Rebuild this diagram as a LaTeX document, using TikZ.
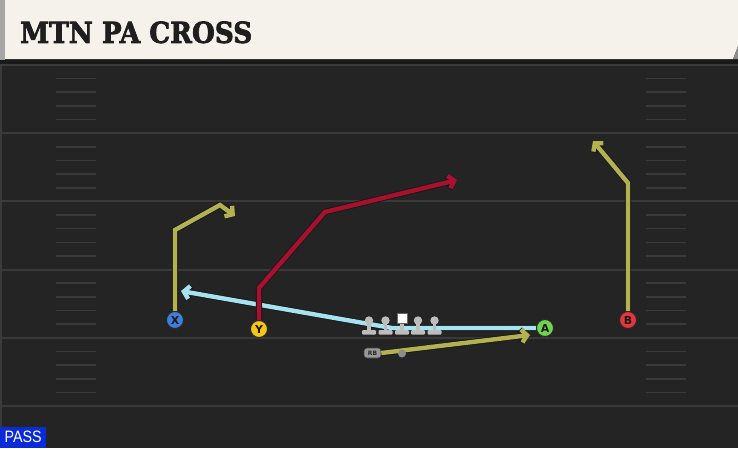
\documentclass[tikz,border=0pt]{standalone}
\usepackage{fontspec}
\usetikzlibrary{arrows.meta}
\newfontfamily\titlefont[BoldFeatures={FakeBold=2.5}]{DejaVu Serif}
\newfontfamily\labelfont{DejaVu Sans}
\newfontfamily\passfont{Liberation Sans}
\definecolor{fieldbg}{HTML}{242424}
\definecolor{headbg}{HTML}{F4F2EB}
\definecolor{bandc}{HTML}{1A1A1A}
\definecolor{yardc}{HTML}{3A3A3A}
\definecolor{olivec}{HTML}{B4B150}
\definecolor{redc}{HTML}{A8102E}
\definecolor{bluec}{HTML}{A6E3F0}
\definecolor{xblue}{HTML}{3F7FDB}
\definecolor{yyellow}{HTML}{F5C518}
\definecolor{agreen}{HTML}{6FD64C}
\definecolor{bred}{HTML}{E8343F}
\definecolor{olgray}{HTML}{BDBDBD}
\definecolor{passblue}{HTML}{0B2BD6}
\definecolor{titlec}{HTML}{1E1E1E}
\tikzset{
  yard/.style={draw=yardc, line width=2pt},
  hashmark/.style={draw=yardc, line width=1.6pt},
  route/.style={draw=#1, line width=4.4pt, line join=miter, line cap=butt,
    -{Straight Barb[length=5.5pt,width=13pt]},
    preaction={draw=black!90, line width=6.2pt}},
  player/.style={circle, draw=black!85, line width=0.9pt, minimum size=17pt, inner sep=0pt,
    font=\labelfont\bfseries\fontsize{11}{11}\selectfont, text=black!90},
  pawn/.pic={
    \fill[olgray] (0,0) circle (4.2);
    \fill[olgray] (-1.8,0) rectangle (1.8,10);
    \fill[olgray, rounded corners=1pt] (-7,9.5) rectangle (7,14);
  }
}
\begin{document}
\begin{tikzpicture}[x=1pt,y=-1pt]
\useasboundingbox (0,0) rectangle (738,448);
% background
\fill[fieldbg] (0,0) rectangle (738,448);
\fill[bandc] (0,59) rectangle (738,64);
\fill[headbg] (5,0) -- (738,0) -- (738,46) -- (733,59) -- (5,59) -- cycle;
\fill[black!45] (733,59) -- (738,46) -- (738,59) -- cycle;
\fill[black!35] (0,0) rectangle (5,60);
\fill[yardc] (0,64) rectangle (2,448);
% yard lines
\foreach \yy in {65,133.2,201.4,269.6,337.8,406} {
  \draw[yard] (0,\yy) -- (738,\yy);
}
% hash marks
\foreach \yy in {65,133.2,201.4,269.6,337.8} {
  \foreach \k in {1,2,3,4} {
    \draw[hashmark] (56,\yy+13.64*\k) -- (96,\yy+13.64*\k);
    \draw[hashmark] (646,\yy+13.64*\k) -- (686,\yy+13.64*\k);
  }
}
% title
\node[anchor=south west, inner sep=0pt, text=titlec] (title) at (20,43.5)
  {\resizebox{232pt}{21.5pt}{\titlefont\bfseries MTN PA CROSS}};
% players
\node[player, fill=xblue] (X) at (175,320) {X};
\node[player, fill=yyellow] (Y) at (259,329) {Y};
\node[player, fill=agreen] (A) at (545,328) {A};
\node[player, fill=bred] (B) at (628,320) {B};
% route coordinates
\coordinate (x1) at (175,230);
\coordinate (x2) at (220,205);
\coordinate (x3) at (235,216);
\coordinate (y1) at (259,288);
\coordinate (y2) at (325,212);
\coordinate (y3) at (457,180);
\coordinate (b1) at (628,183);
\coordinate (b2) at (593,141);
\coordinate (a1) at (392,328);
\coordinate (a2) at (181,291);
\coordinate (r1) at (530,335);
% RB
\node[rounded corners=3pt, fill=black!40, draw=black!75, line width=0.6pt, minimum width=17pt, minimum height=10pt,
  inner sep=0pt, font=\labelfont\bfseries\fontsize{6}{6}\selectfont, text=black!85] (RB) at (372.5,353) {RB};
% routes
\draw[route=bluec] (A.west) -- (a1) -- (a2);
\draw[route=olivec] (X.north) -- (x1) -- (x2) -- (x3);
\draw[route=redc] (Y.north) -- (y1) -- (y2) -- (y3);
\draw[route=olivec] (B.north) -- (b1) -- (b2);
\draw[route=olivec] (RB.east) -- (r1);
\node[circle, fill=black!45, minimum size=8pt, inner sep=0pt] (QB) at (402,353.5) {};
% offensive line
\pic at (369,320.5) {pawn};
\pic at (385.5,320.5) {pawn};
\pic at (418,320.5) {pawn};
\pic at (434.5,320.5) {pawn};
\fill[olgray] (400.2,318) rectangle (403.8,330);
\fill[olgray, rounded corners=1pt] (395,330) rectangle (409,334.5);
\node[fill=white, draw=black!60, line width=0.4pt, minimum size=10.5pt, inner sep=0pt] (C) at (402,318) {};
% redraw players on top
\node[player, fill=xblue] at (175,320) {X};
\node[player, fill=yyellow] at (259,329) {Y};
\node[player, fill=agreen] at (545,328) {A};
\node[player, fill=bred] at (628,320) {B};
% pass label
\node[fill=passblue, minimum width=46pt, minimum height=21pt, anchor=south west, inner sep=0pt, text=white] (pass) at (0,448)
  {\resizebox{37pt}{11.5pt}{\passfont PASS}};
\end{tikzpicture}
\end{document}
